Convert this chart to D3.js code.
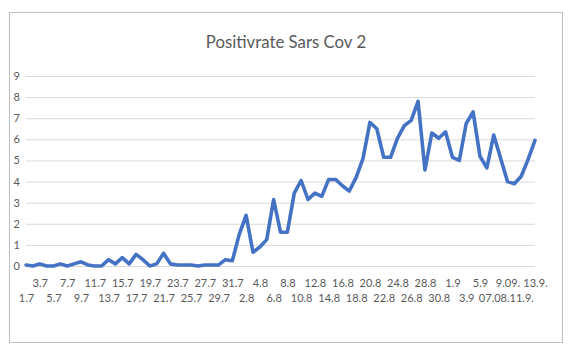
<!DOCTYPE html>
<html><head><meta charset="utf-8">
<script src="https://cdn.jsdelivr.net/npm/d3@7"></script>
<style>
html,body{margin:0;padding:0;background:#fff;}
svg text{font-family:Lato,"Open Sans",sans-serif;fill:#595959;}
</style></head>
<body><svg id="c" width="575" height="355"></svg>
<script>
const title = "Positivrate Sars Cov 2";
const julyDates = d3.range(1, 32).map(d => d + ".7");
const augDates = d3.range(1, 32).map(d => d + ".8");
const sepDates = ["1.9","2.9","3.9","4.9","5.9","6.9","07.08.","8.9","9.09.","10.9","11.9.","12.9","13.9."];
const categories = julyDates.concat(augDates, sepDates);
const values = [
 0.05,0.0,0.1,0.0,0.0,0.1,0.0,0.1,0.2,0.05,
 0.0,0.0,0.3,0.1,0.4,0.1,0.55,0.3,0.0,0.1,
 0.6,0.1,0.05,0.05,0.05,0.0,0.05,0.05,0.05,0.3,
 0.25,1.5,2.4,0.65,0.9,1.25,3.15,1.6,1.6,3.45,
 4.05,3.15,3.45,3.3,4.1,4.1,3.8,3.55,4.2,5.1,
 6.8,6.5,5.15,5.15,6.05,6.65,6.9,7.8,4.55,6.3,
 6.05,6.35,5.15,5.0,6.75,7.3,5.2,4.65,6.2,5.1,
 4.0,3.9,4.25,5.05,5.95];
const yTicks = [0,1,2,3,4,5,6,7,8,9];

const svg = d3.select("#c");
// chart border
svg.append("rect").attr("x",9.5).attr("y",12.5).attr("width",553).attr("height",330)
  .attr("fill","#fff").attr("stroke","#bfbfbf").attr("stroke-width",1);

const x = d3.scalePoint().domain(categories).range([26, 535]);
const y = d3.scaleLinear().domain([0, 9]).range([266, 76]);

// gridlines + y labels
const yAxis = svg.append("g").attr("transform","translate(26,0)")
  .call(d3.axisLeft(y).tickValues(yTicks).tickSize(-509).tickPadding(6).tickFormat(d3.format("d")));
yAxis.select(".domain").remove();
yAxis.selectAll(".tick line").attr("stroke","#d9d9d9").attr("stroke-width",1);
yAxis.selectAll(".tick text").attr("font-size","11px").style("font-family","Lato");

// x axis labels in two rows
const shown = categories.filter((d,i) => i % 2 === 0);
const xAxis = svg.append("g").attr("transform","translate(0,266)")
  .call(d3.axisBottom(x).tickValues(shown).tickSize(0).tickPadding(0));
xAxis.select(".domain").remove();
xAxis.selectAll(".tick text")
  .attr("font-size","11px").style("font-family","Lato")
  .attr("dy", null)
  .attr("y", (d,i) => i % 2 === 0 ? 35.5 : 21.3);

// line
const line = d3.line().x((d,i) => x(categories[i])).y(d => y(d));
svg.append("path").datum(values).attr("d", line)
  .attr("fill","none").attr("stroke","#4472C4").attr("stroke-width",3.6)
  .attr("stroke-linejoin","round").attr("stroke-linecap","round");

// title
svg.append("text").attr("x",286).attr("y",47.5).attr("text-anchor","middle")
  .attr("font-size","16.8px").style("font-family","Lato").text(title);
</script></body></html>
